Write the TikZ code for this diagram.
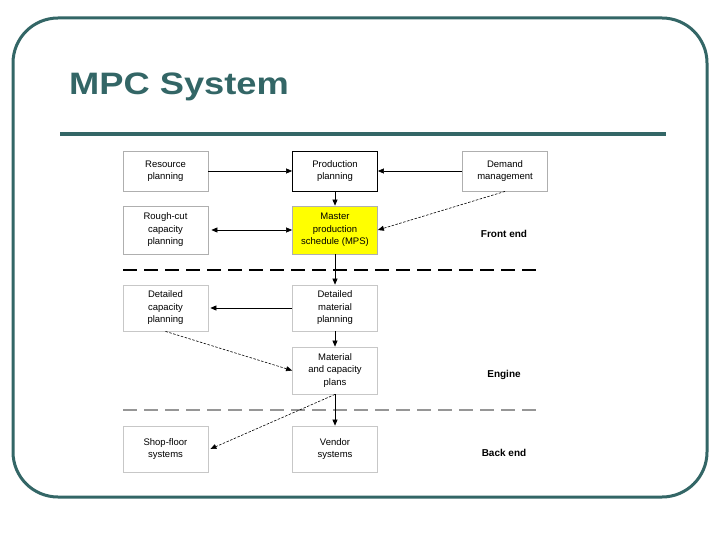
\documentclass[tikz,border=0pt]{standalone}
\usepackage{fontspec}
\setmainfont{Liberation Sans}
\usetikzlibrary{arrows.meta}
\definecolor{frameteal}{RGB}{51,102,102}
\definecolor{boxgray}{RGB}{175,175,175}
\definecolor{mpsyellow}{RGB}{255,255,0}
\definecolor{sepgray}{RGB}{150,150,150}
\tikzset{
  box/.style={draw=boxgray, line width=0.8pt, minimum width=85pt, align=center,
    font=\fontsize{9.5}{12.5}\selectfont, inner sep=0pt},
  tip/.style={Triangle[length=6pt,width=5pt]},
  arr/.style={-{Triangle[length=6pt,width=5pt]}, line width=0.6pt},
  darr/.style={arr, dash pattern=on 2.5pt off 1.5pt},
  sep/.style={line width=2.5pt, dash pattern=on 13.5pt off 7.5pt},
  zone/.style={font=\fontsize{10}{12}\selectfont\bfseries}
}
\begin{document}
\begin{tikzpicture}[x=1pt,y=-1pt]
\useasboundingbox (0,0) rectangle (720,540);
\draw[frameteal, line width=3pt, rounded corners=45pt] (13,18) rectangle (707,497);
\draw[frameteal, line width=4pt] (60,134) -- (666,134);
\node[anchor=base west, text=frameteal, inner sep=0pt,
  font=\fontsize{31}{36}\selectfont\bfseries] (title) at (69,95) {\scalebox{1.17}[1]{MPC System}};

% row 1
\node[box, minimum height=40pt] (rp) at (165.5,171) {Resource\\planning};
\node[box, draw=black, minimum height=40pt] (pp) at (335,171) {Production\\planning};
\node[box, minimum height=40pt] (dm) at (505,171) {Demand\\management};
% row 2
\node[box, minimum height=48pt] (rc) at (165.5,230) {Rough-cut\\capacity\\planning};
\node[box, fill=mpsyellow, minimum height=48pt] (mps) at (335,230) {Master\\production\\schedule (MPS)};
\node[zone] (fe) at (504,234) {Front end};
% separator 1
\coordinate (s1a) at (123,270);
\coordinate (s1b) at (541,270);
\draw[sep, black] (s1a) -- (s1b);
% row 3
\node[box, draw=boxgray!70, minimum height=46pt] (dcp) at (165.5,308) {Detailed\\capacity\\planning};
\node[box, draw=boxgray!70, minimum height=46pt] (dmp) at (335,308) {Detailed\\material\\planning};
% row 4
\node[box, draw=boxgray!70, minimum height=47pt] (mcp) at (335,370.5) {Material\\and capacity\\plans};
\node[zone] (en) at (504,375) {Engine};
% separator 2
\coordinate (s2a) at (123,410);
\coordinate (s2b) at (541,410);
\draw[sep, sepgray] (s2a) -- (s2b);
% row 5
\node[box, draw=boxgray!70, minimum height=46pt] (sfs) at (165.5,449) {Shop-floor\\systems};
\node[box, draw=boxgray!70, minimum height=46pt] (vs) at (335,449) {Vendor\\systems};
\node[zone] (be) at (504,453) {Back end};

% connectors
\draw[arr] (rp) -- (pp);
\draw[arr] (dm) -- (pp);
\draw[arr] (pp) -- (mps);
\draw[{Triangle[length=6pt,width=5pt]}-{Triangle[length=6pt,width=5pt]}, line width=0.6pt] ([xshift=3pt]rc.east) -- (mps.west);
\draw[darr] (dm.south) -- (mps.east);
\draw[arr] (mps) -- (dmp);
\draw[arr] (dmp.west) -- ([xshift=2pt]dcp.east);
\draw[arr] (dmp) -- (mcp);
\draw[darr] (dcp.south) -- (mcp.west);
\draw[arr] (mcp) -- (vs);
\draw[darr] (mcp.south) -- ([xshift=2pt]sfs.east);
\end{tikzpicture}
\end{document}
